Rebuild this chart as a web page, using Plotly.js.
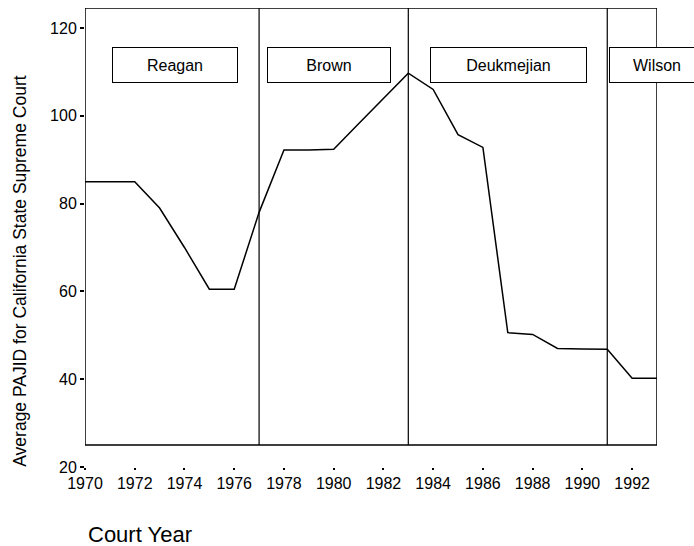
<!DOCTYPE html>
<html>
<head>
<meta charset="utf-8">
<script src="https://cdn.plot.ly/plotly-3.0.1.min.js"></script>
<style>html,body{margin:0;padding:0;background:#fff;}#chart{width:694px;height:546px;}</style>
</head>
<body>
<div id="chart"></div>
<script>
// Data
const years = [1970,1971,1972,1973,1974,1975,1976,1977,1978,1979,1980,1981,1982,1983,1984,1985,1986,1987,1988,1989,1990,1991,1992,1993];
const pajid = [85,85,85,79,70,60.5,60.5,78,92.2,92.2,92.4,98.2,104,109.7,106,95.7,92.8,50.6,50.2,47,46.9,46.8,40.2,40.2];
const governors = ["Reagan","Brown","Deukmejian","Wilson"];
const transitionYears = [1977,1983,1991];
const xTickVals = [1970,1972,1974,1976,1978,1980,1982,1984,1986,1988,1990,1992];
const yTickVals = [20,40,60,80,100,120];

const FONT = "Liberation Sans, Arial, Helvetica, sans-serif";
const X0 = 1970, X1 = 1993, YTOP = 124.55, YBOX = 25;
const PW = 572.5, PH = 459.5, PL = 85, PT = 8;
const px2x = p => (p - PL) / PW;
const px2y = p => 1 - (p - PT) / PH;

const shapes = [{
  type: "rect", xref: "x", yref: "y", x0: X0, x1: X1, y0: YBOX, y1: YTOP,
  line: {color: "#000", width: 1.5}, fillcolor: "rgba(0,0,0,0)", layer: "above"
}];
transitionYears.forEach(t => shapes.push({
  type: "line", xref: "x", yref: "y", x0: t, x1: t, y0: YBOX, y1: YTOP,
  line: {color: "#000", width: 1.2}, layer: "above"
}));

// label boxes: [center x px, width px]
const boxPos = [[175.5, 124], [329.5, 122], [509, 155], [658, 94]];
const annotations = governors.map((g, i) => ({
  text: g, xref: "paper", yref: "paper", x: px2x(boxPos[i][0]), y: px2y(65.5),
  showarrow: false, xanchor: "center", yanchor: "middle",
  width: boxPos[i][1], height: 34, borderpad: 0,
  bordercolor: "#000", borderwidth: 1, bgcolor: "#fff",
  font: {family: FONT, size: 16, color: "#000"}
}));
annotations.push({
  text: "Average PAJID for California State Supreme Court",
  xref: "paper", yref: "paper", x: px2x(20), y: px2y(272),
  xanchor: "center", yanchor: "middle", textangle: -90, showarrow: false,
  font: {family: FONT, size: 17.5, color: "#000"}
});
annotations.push({
  text: "Court Year",
  xref: "paper", yref: "paper", x: px2x(140), y: px2y(535),
  xanchor: "center", yanchor: "middle", showarrow: false,
  font: {family: FONT, size: 22, color: "#000"}
});

const trace = {
  x: years, y: pajid, type: "scatter", mode: "lines",
  line: {color: "#000", width: 1.5}, hoverinfo: "skip", showlegend: false
};

const layout = {
  width: 694, height: 546,
  margin: {l: 85, r: 36.5, t: 8, b: 78.5, pad: 0},
  paper_bgcolor: "#fff", plot_bgcolor: "#fff",
  showlegend: false,
  font: {family: FONT, color: "#000"},
  xaxis: {
    range: [X0, X1], tickvals: xTickVals, ticktext: xTickVals.map(String),
    showgrid: false, zeroline: false, showline: false,
    ticks: "outside", ticklen: 2, tickwidth: 2, tickcolor: "#000",
    tickfont: {family: FONT, size: 16, color: "#000"}
  },
  yaxis: {
    range: [20, YTOP], tickvals: yTickVals, ticktext: yTickVals.map(String),
    showgrid: false, zeroline: false, showline: false,
    ticks: "outside", ticklen: 4, tickwidth: 2, tickcolor: "#000",
    tickfont: {family: FONT, size: 16, color: "#000"}
  },
  shapes: shapes,
  annotations: annotations
};

Plotly.newPlot("chart", [trace], layout, {displayModeBar: false, staticPlot: true});
</script>
</body>
</html>
